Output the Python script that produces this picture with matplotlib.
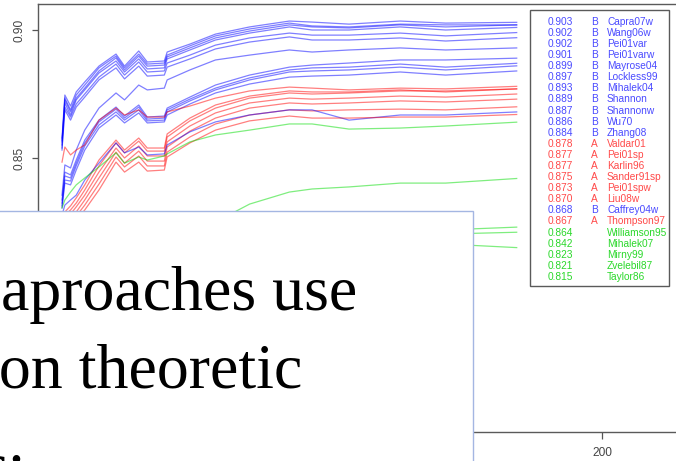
import matplotlib
matplotlib.use("Agg")
import matplotlib.pyplot as plt
from matplotlib.patches import Rectangle

W, H = 676, 461

# ---------------- data ----------------
x = [10, 11, 13, 15, 18, 23, 29, 32, 37, 40, 46, 47, 55, 64, 76, 90, 98, 111, 129, 145, 170]

capra07w = [0.8578, 0.8746, 0.8703, 0.8758, 0.8797, 0.8859, 0.8906, 0.8859, 0.8918, 0.8875, 0.8879,
            0.8914, 0.8945, 0.8984, 0.9012, 0.9035, 0.9031, 0.9023, 0.9035, 0.9027, 0.903]
wang06w = [0.8563, 0.8734, 0.8688, 0.8746, 0.8785, 0.8852, 0.8898, 0.8852, 0.8906, 0.8867, 0.8871,
           0.8902, 0.8938, 0.8977, 0.9004, 0.9027, 0.9016, 0.9012, 0.9023, 0.9020, 0.902]
pei01var = [0.8551, 0.8727, 0.8680, 0.8734, 0.8773, 0.8840, 0.8891, 0.8844, 0.8898, 0.8859, 0.8863,
            0.8895, 0.8930, 0.8969, 0.8996, 0.9020, 0.9012, 0.9008, 0.9020, 0.9012, 0.902]
pei01varw = [0.8570, 0.8715, 0.8668, 0.8727, 0.8766, 0.8832, 0.8879, 0.8836, 0.8887, 0.8848, 0.8852,
             0.8887, 0.8922, 0.8961, 0.8988, 0.9012, 0.9000, 0.9000, 0.9012, 0.9000, 0.901]
mayrose04 = [0.8539, 0.8699, 0.8660, 0.8711, 0.8750, 0.8816, 0.8867, 0.8824, 0.8875, 0.8836, 0.8840,
             0.8871, 0.8902, 0.8941, 0.8969, 0.8988, 0.8980, 0.8980, 0.8988, 0.8977, 0.899]
lockless99 = [0.8531, 0.8688, 0.8648, 0.8699, 0.8738, 0.8805, 0.8852, 0.8809, 0.8859, 0.8820, 0.8824,
              0.8855, 0.8887, 0.8926, 0.8953, 0.8973, 0.8961, 0.8961, 0.8969, 0.8957, 0.897]
mihalek04 = [0.8355, 0.8473, 0.8461, 0.8531, 0.8609, 0.8695, 0.8754, 0.8727, 0.8785, 0.8766, 0.8773,
             0.8805, 0.8844, 0.8883, 0.8902, 0.8922, 0.8914, 0.8922, 0.8930, 0.8922, 0.893]
shannon = [0.8336, 0.8445, 0.8434, 0.8492, 0.8570, 0.8648, 0.8699, 0.8664, 0.8707, 0.8660, 0.8664,
           0.8695, 0.8738, 0.8785, 0.8824, 0.8855, 0.8863, 0.8871, 0.8883, 0.8883, 0.889]
shannonw = [0.8324, 0.8430, 0.8422, 0.8480, 0.8559, 0.8641, 0.8691, 0.8656, 0.8699, 0.8652, 0.8656,
            0.8688, 0.8730, 0.8773, 0.8813, 0.8844, 0.8852, 0.8855, 0.8867, 0.8855, 0.887]
wu70 = [0.8313, 0.8414, 0.8410, 0.8469, 0.8547, 0.8629, 0.8680, 0.8648, 0.8688, 0.8645, 0.8648,
        0.8680, 0.8723, 0.8766, 0.8805, 0.8836, 0.8840, 0.8844, 0.8855, 0.8844, 0.886]
zhang08 = [0.8305, 0.8402, 0.8395, 0.8453, 0.8531, 0.8617, 0.8668, 0.8637, 0.8676, 0.8637, 0.8641,
           0.8668, 0.8711, 0.8754, 0.8789, 0.8816, 0.8820, 0.8824, 0.8836, 0.8824, 0.884]
valdar01 = [0.8484, 0.8543, 0.8512, 0.8531, 0.8551, 0.8648, 0.8695, 0.8668, 0.8688, 0.8660, 0.8660,
            0.8680, 0.8703, 0.8734, 0.8762, 0.8777, 0.8773, 0.8766, 0.8773, 0.8770, 0.878]
pei01sp = [0.8238, 0.8289, 0.8313, 0.8344, 0.8395, 0.8492, 0.8570, 0.8531, 0.8578, 0.8539, 0.8539,
           0.8594, 0.8656, 0.8707, 0.8742, 0.8762, 0.8758, 0.8758, 0.8766, 0.8758, 0.877]
karlin96 = [0.8227, 0.8277, 0.8297, 0.8324, 0.8375, 0.8469, 0.8559, 0.8520, 0.8566, 0.8527, 0.8527,
            0.8582, 0.8645, 0.8695, 0.8734, 0.8754, 0.8750, 0.8754, 0.8762, 0.8762, 0.877]
sander91sp = [0.8211, 0.8258, 0.8281, 0.8309, 0.8355, 0.8445, 0.8539, 0.8500, 0.8547, 0.8508, 0.8508,
              0.8563, 0.8625, 0.8676, 0.8715, 0.8734, 0.8730, 0.8734, 0.8742, 0.8738, 0.875]
pei01spw = [0.8199, 0.8242, 0.8266, 0.8289, 0.8336, 0.8422, 0.8523, 0.8480, 0.8527, 0.8488, 0.8488,
            0.8543, 0.8605, 0.8656, 0.8695, 0.8715, 0.8711, 0.8715, 0.8723, 0.8719, 0.873]
liu08w = [0.8188, 0.8227, 0.8250, 0.8273, 0.8316, 0.8398, 0.8504, 0.8465, 0.8508, 0.8469, 0.8469,
          0.8523, 0.8582, 0.8633, 0.8668, 0.8688, 0.8684, 0.8688, 0.8691, 0.8688, 0.870]
caffrey04w = [0.8277, 0.8316, 0.8336, 0.8355, 0.8414, 0.8480, 0.8559, 0.8520, 0.8543, 0.8512, 0.8516,
              0.8551, 0.8602, 0.8641, 0.8668, 0.8688, 0.8688, 0.8648, 0.8668, 0.8668, 0.868]
thompson97 = [0.8172, 0.8211, 0.8234, 0.8258, 0.8297, 0.8375, 0.8484, 0.8445, 0.8484, 0.8449, 0.8453,
              0.8504, 0.8559, 0.8609, 0.8645, 0.8664, 0.8656, 0.8656, 0.8660, 0.8660, 0.867]
williamson95 = [0.8305, 0.8336, 0.8367, 0.8395, 0.8422, 0.8465, 0.8520, 0.8480, 0.8504, 0.8492, 0.8508,
                0.8516, 0.8563, 0.8590, 0.8609, 0.8633, 0.8633, 0.8613, 0.8617, 0.8625, 0.864]
mihalek07 = [0.7828, 0.7867, 0.7898, 0.7926, 0.7965, 0.8023, 0.8082, 0.8082, 0.8109, 0.8121, 0.8141,
             0.8156, 0.8199, 0.8250, 0.8320, 0.8367, 0.8379, 0.8387, 0.8402, 0.8402, 0.842]
mirny99 = [0.7477, 0.7555, 0.7594, 0.7633, 0.7711, 0.7789, 0.7867, 0.7875, 0.7926, 0.7945, 0.7965,
           0.7984, 0.8043, 0.8094, 0.8141, 0.8172, 0.8180, 0.8195, 0.8211, 0.8219, 0.823]
zvelebil87 = [0.7438, 0.7516, 0.7563, 0.7602, 0.7672, 0.7750, 0.7828, 0.7836, 0.7887, 0.7906, 0.7926,
              0.7953, 0.8016, 0.8070, 0.8117, 0.8148, 0.8160, 0.8180, 0.8195, 0.8203, 0.821]
taylor86 = [0.7398, 0.7457, 0.7496, 0.7535, 0.7594, 0.7664, 0.7730, 0.7750, 0.7789, 0.7820, 0.7844,
            0.7875, 0.7945, 0.8004, 0.8055, 0.8094, 0.8109, 0.8129, 0.8148, 0.8164, 0.815]

names = ["Capra07w", "Wang06w", "Pei01var", "Pei01varw", "Mayrose04", "Lockless99", "Mihalek04",
         "Shannon", "Shannonw", "Wu70", "Zhang08", "Valdar01", "Pei01sp", "Karlin96", "Sander91sp",
         "Pei01spw", "Liu08w", "Caffrey04w", "Thompson97", "Williamson95", "Mihalek07", "Mirny99",
         "Zvelebil87", "Taylor86"]
groups = ["B"] * 11 + ["A"] * 6 + ["B", "A"] + [""] * 5
values = [capra07w, wang06w, pei01var, pei01varw, mayrose04, lockless99, mihalek04, shannon,
          shannonw, wu70, zhang08, valdar01, pei01sp, karlin96, sander91sp, pei01spw, liu08w,
          caffrey04w, thompson97, williamson95, mihalek07, mirny99, zvelebil87, taylor86]

# only the ticks not hidden behind the slide's text box
xticks = [200]
yticks = [0.85, 0.90]

line_colors = {"B": "#0000ff", "A": "#ff0000", "": "#00dd00"}
text_colors = {"B": "#4a4aff", "A": "#ff4a4a", "": "#2ad82a"}

# ---------------- figure ----------------
fig = plt.figure(figsize=(W / 100, H / 100), dpi=100)
fig.patch.set_facecolor("white")

def fx(px):
    return px / W

def fy(py):
    return 1 - py / H

ax_left, ax_right, ax_top, ax_bottom = 38, 700, 4, 432
ax = fig.add_axes([fx(ax_left), fy(ax_bottom), (ax_right - ax_left) / W, (ax_bottom - ax_top) / H])

for vals, g in zip(values, groups):
    ax.plot(x, vals, color=line_colors[g], alpha=0.5, lw=0.9, solid_joinstyle="round")

ax.set_xlim(1.55, 234.5)
ax.set_ylim(0.74297, 0.91016)
ax.set_xticks(xticks)
ax.set_xticklabels([str(t) for t in xticks])
ax.set_yticks(yticks)
ax.set_yticklabels([f"{t:.2f}" for t in yticks], rotation=90, va="center")
ax.tick_params(axis="both", direction="out", colors="#555555", labelcolor="#444444",
               labelsize=8.6, width=0.9)
ax.tick_params(axis="y", length=4.3, pad=4.5)
ax.tick_params(axis="x", length=5, pad=5.5)
for lab in ax.get_yticklabels() + ax.get_xticklabels():
    lab.set_fontfamily("Liberation Sans")
for s in ax.spines.values():
    s.set_color("#5a5a5a")
    s.set_linewidth(1.0)

# ---------------- legend ----------------
leg_box = Rectangle((fx(530), fy(286)), (669 - 530) / W, (286 - 10) / H, transform=fig.transFigure,
                    facecolor="white", edgecolor="#5a5a5a", lw=1.0, zorder=5)
fig.add_artist(leg_box)
for i, (nm, g, vals) in enumerate(zip(names, groups, values)):
    yy = fy(21.7 + i * 11.1)
    kw = dict(transform=fig.transFigure, fontsize=7.3, fontfamily="Liberation Sans",
              color=text_colors[g], va="center", ha="left", zorder=6)
    fig.text(fx(548), yy, f"{vals[-1]:.3f}", **kw)
    if g:
        fig.text(fx(591), yy, g, **kw)
    fig.text(fx(607), yy, nm, **kw)

# ---------------- slide text box overlay ----------------
box = Rectangle((-0.02, -0.02), fx(473) + 0.02, (H - 211) / H + 0.02, transform=fig.transFigure,
                facecolor="white", edgecolor="#a4b6e2", lw=1.0, zorder=10)
fig.add_artist(box)
tkw = dict(fontfamily="Liberation Serif", fontsize=46, color="black", va="baseline", ha="left",
           zorder=11)
fig.text(fx(1), fy(310), "aproaches use", **tkw)
fig.text(fx(-19), fy(387), "ion theoretic", **tkw)
fig.text(fx(-17), fy(486), "s:", **tkw)

fig.savefig("out.png", dpi=100, facecolor="white")
